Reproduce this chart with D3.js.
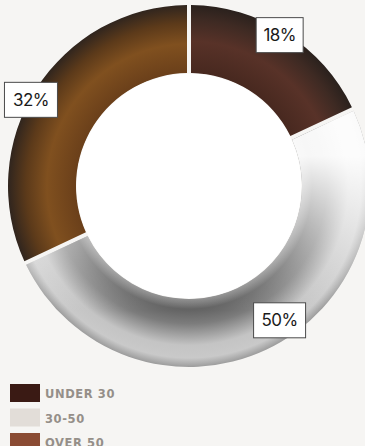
<!DOCTYPE html>
<html>
<head>
<meta charset="utf-8">
<script src="https://cdn.jsdelivr.net/npm/d3@7"></script>
<style>
	body { margin: 0; background: #f6f5f3; }
	#chart01 { width: 365px; height: 446px; }
</style>
</head>
<body>
<div id="chart01"></div>
<script>
// data
var categories = ["UNDER 30", "30-50", "OVER 50"];
var shares = [18, 50, 32];
var swatchColors = ["#3a1a14", "#e2ddd8", "#8a4b33"];

var width = 365;
var height = 446;
var cx = 189;
var cy = 186;
var outerR = 181;
var innerR = 113;
var bg = "#f6f5f3";

var svg = d3.select("#chart01").append("svg")
	.attr("width", width)
	.attr("height", height);

svg.append("rect").attr("width", width).attr("height", height).attr("fill", bg);

var defs = svg.append("defs");

// radial shading for each slice (offsets are fractions of outer radius)
var shading = [
	[[0.62, "#47281f"], [0.80, "#583228"], [0.92, "#3e2a23"], [1, "#2a211d"]],
	[[0.62, "#8c8c8c"], [0.68, "#626262"], [0.76, "#7c7c7c"], [0.88, "#c4c4c4"], [0.95, "#c9c9c9"], [1, "#9c9c9c"]],
	[[0.62, "#6a3f1a"], [0.785, "#80501f"], [0.90, "#5c3a1a"], [1, "#30251e"]]
];
shading.forEach((stops, i) => {
	var grad = defs.append("radialGradient")
		.attr("id", "shade" + i)
		.attr("gradientUnits", "userSpaceOnUse")
		.attr("cx", 0).attr("cy", 0).attr("r", outerR);
	stops.forEach((s) => {
		grad.append("stop").attr("offset", s[0]).attr("stop-color", s[1]);
	});
});

// light from above on the grey slice (coords relative to centre)
var gloss = defs.append("linearGradient")
	.attr("id", "gloss")
	.attr("gradientUnits", "userSpaceOnUse")
	.attr("x1", 0).attr("y1", -30).attr("x2", 0).attr("y2", 125);
gloss.append("stop").attr("offset", 0).attr("stop-color", "#fff").attr("stop-opacity", 0.95);
gloss.append("stop").attr("offset", 1).attr("stop-color", "#fff").attr("stop-opacity", 0);

var pie = d3.pie().sort(null).value((d) => d);
var arcs = pie(shares);

var arc = d3.arc()
	.innerRadius(innerR)
	.outerRadius(outerR)
	.padRadius(outerR)
	.padAngle(4 / outerR);

var g = svg.append("g").attr("transform", `translate(${cx},${cy})`);

g.selectAll("path.slice")
	.data(arcs)
	.enter()
	.append("path")
	.attr("class", "slice")
	.attr("d", arc)
	.attr("fill", (d, i) => `url(#shade${i})`);

// gloss overlay on the 30-50 slice
g.append("path")
	.attr("d", arc(arcs[1]))
	.attr("fill", "url(#gloss)");

// inner hole
g.append("circle").attr("r", innerR - 0.5).attr("fill", "#fff");

// percentage labels: angle (deg from top, clockwise) and radius for each box
var labelAngle = [31, 146, 298.6];
var labelRadius = [176, 162, 180];
var boxW = [47, 52, 53];
var boxH = 35;

arcs.forEach((d, i) => {
	var a = labelAngle[i] * Math.PI / 180;
	var x = cx + labelRadius[i] * Math.sin(a);
	var y = cy - labelRadius[i] * Math.cos(a);
	var lbl = svg.append("g").attr("transform", `translate(${x},${y})`);
	lbl.append("rect")
		.attr("x", -boxW[i] / 2)
		.attr("y", -boxH / 2)
		.attr("width", boxW[i])
		.attr("height", boxH)
		.attr("fill", "#fff")
		.attr("stroke", "#4a4a4a")
		.attr("stroke-width", 1);
	lbl.append("text")
		.attr("text-anchor", "middle")
		.attr("dy", "0.36em")
		.attr("font-family", "Inter, 'Liberation Sans', sans-serif")
		.attr("font-size", "17px")
		.attr("letter-spacing", "-0.6px")
		.attr("fill", "#1a1a1a")
		.text(d.data + "%");
});

// legend
var legend = svg.append("g")
	.attr("class", "legend")
	.attr("transform", "translate(10,384)");

categories.forEach((c, i) => {
	var row = legend.append("g").attr("transform", `translate(0, ${i * 24.5})`);
	row.append("rect")
		.attr("width", 30)
		.attr("height", 18)
		.attr("fill", swatchColors[i]);
	row.append("text")
		.attr("x", 35)
		.attr("y", 14)
		.attr("font-family", "'DejaVu Sans', sans-serif")
		.attr("font-size", "11.5px")
		.attr("font-weight", "bold")
		.attr("letter-spacing", "0.6px")
		.attr("fill", "#958f89")
		.text(c);
});
</script>
</body>
</html>
